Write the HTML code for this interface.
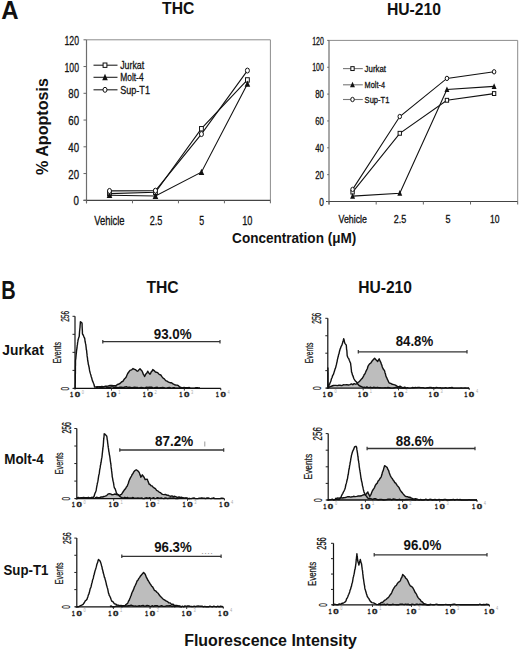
<!DOCTYPE html>
<html><head><meta charset="utf-8"><style>
html,body{margin:0;padding:0;background:#fff;}
svg{display:block;}
text{font-family:"Liberation Sans",sans-serif;}
</style></head><body>
<svg width="520" height="651" viewBox="0 0 520 651">
<rect width="520" height="651" fill="#fff"/>
<text transform="translate(1.20,18.60) scale(0.9611,1.0000)" font-size="25" font-weight="bold" fill="#111" >A</text>
<text transform="translate(162.10,14.40) scale(0.9824,1.0000)" font-size="16" font-weight="bold" fill="#111" >THC</text>
<text transform="translate(386.90,14.50) scale(0.9833,1.0000)" font-size="16" font-weight="bold" fill="#111" >HU-210</text>
<text transform="translate(48.30,175.00) rotate(-90) scale(1.0071,1)" font-size="16" font-weight="bold" fill="#111" >% Apoptosis</text>
<text transform="translate(232.10,242.50) scale(0.9687,1.0000)" font-size="14" font-weight="bold" fill="#111" >Concentration (μM)</text>
<line x1="86.50" y1="39.80" x2="270.40" y2="39.80" stroke="#8c8c8c" stroke-width="1" />
<line x1="270.40" y1="39.80" x2="270.40" y2="200.30" stroke="#8c8c8c" stroke-width="1" />
<line x1="86.50" y1="39.80" x2="86.50" y2="203.30" stroke="#6e6e6e" stroke-width="1.2" />
<line x1="83.50" y1="200.30" x2="270.40" y2="200.30" stroke="#444" stroke-width="1.2" />
<line x1="83.50" y1="200.30" x2="86.50" y2="200.30" stroke="#666" stroke-width="1" />
<text transform="translate(73.60,205.30) scale(0.7784,1.0000)" font-size="12.5" font-weight="normal" fill="#111" stroke="#111" stroke-width="0.3">0</text>
<line x1="83.50" y1="173.55" x2="86.50" y2="173.55" stroke="#666" stroke-width="1" />
<text transform="translate(68.30,178.55) scale(0.7712,1.0000)" font-size="12.5" font-weight="normal" fill="#111" stroke="#111" stroke-width="0.3">20</text>
<line x1="83.50" y1="146.80" x2="86.50" y2="146.80" stroke="#666" stroke-width="1" />
<text transform="translate(68.30,151.80) scale(0.7712,1.0000)" font-size="12.5" font-weight="normal" fill="#111" stroke="#111" stroke-width="0.3">40</text>
<line x1="83.50" y1="120.05" x2="86.50" y2="120.05" stroke="#666" stroke-width="1" />
<text transform="translate(68.30,125.05) scale(0.7712,1.0000)" font-size="12.5" font-weight="normal" fill="#111" stroke="#111" stroke-width="0.3">60</text>
<line x1="83.50" y1="93.30" x2="86.50" y2="93.30" stroke="#666" stroke-width="1" />
<text transform="translate(68.30,98.30) scale(0.7712,1.0000)" font-size="12.5" font-weight="normal" fill="#111" stroke="#111" stroke-width="0.3">80</text>
<line x1="83.50" y1="66.55" x2="86.50" y2="66.55" stroke="#666" stroke-width="1" />
<text transform="translate(64.50,71.55) scale(0.6946,1.0000)" font-size="12.5" font-weight="normal" fill="#111" stroke="#111" stroke-width="0.3">100</text>
<line x1="83.50" y1="39.80" x2="86.50" y2="39.80" stroke="#666" stroke-width="1" />
<text transform="translate(64.50,44.80) scale(0.6946,1.0000)" font-size="12.5" font-weight="normal" fill="#111" stroke="#111" stroke-width="0.3">120</text>
<line x1="86.50" y1="200.30" x2="86.50" y2="203.30" stroke="#666" stroke-width="1" />
<line x1="132.47" y1="200.30" x2="132.47" y2="203.30" stroke="#666" stroke-width="1" />
<line x1="178.45" y1="200.30" x2="178.45" y2="203.30" stroke="#666" stroke-width="1" />
<line x1="224.42" y1="200.30" x2="224.42" y2="203.30" stroke="#666" stroke-width="1" />
<line x1="270.40" y1="200.30" x2="270.40" y2="203.30" stroke="#666" stroke-width="1" />
<text transform="translate(94.20,224.60) scale(0.7541,1.0000)" font-size="12.5" font-weight="normal" fill="#111" stroke="#111" stroke-width="0.3">Vehicle</text>
<text transform="translate(149.65,224.60) scale(0.7309,1.0000)" font-size="12.5" font-weight="normal" fill="#111" stroke="#111" stroke-width="0.3">2.5</text>
<text transform="translate(199.30,224.60) scale(0.7063,1.0000)" font-size="12.5" font-weight="normal" fill="#111" stroke="#111" stroke-width="0.3">5</text>
<text transform="translate(242.20,224.60) scale(0.7351,1.0000)" font-size="12.5" font-weight="normal" fill="#111" stroke="#111" stroke-width="0.3">10</text>
<polyline points="109.5,193.6 155.5,192.3 201.4,128.7 247.4,79.9" fill="none" stroke="#111" stroke-width="1.1"/>
<polyline points="109.5,195.2 155.5,196.0 201.4,172.2 247.4,83.9" fill="none" stroke="#111" stroke-width="1.1"/>
<polyline points="109.5,190.9 155.5,190.7 201.4,134.1 247.4,70.6" fill="none" stroke="#111" stroke-width="1.1"/>
<rect x="107.59" y="191.41" width="3.80" height="4.40" fill="#fff" stroke="#111" stroke-width="1"/>
<rect x="153.56" y="190.08" width="3.80" height="4.40" fill="#fff" stroke="#111" stroke-width="1"/>
<rect x="199.54" y="126.54" width="3.80" height="4.40" fill="#fff" stroke="#111" stroke-width="1"/>
<rect x="245.51" y="77.73" width="3.80" height="4.40" fill="#fff" stroke="#111" stroke-width="1"/>
<polygon points="109.49,191.70 112.29,198.10 106.69,198.10" fill="#111"/>
<polygon points="155.46,192.50 158.26,198.90 152.66,198.90" fill="#111"/>
<polygon points="201.44,168.69 204.24,175.09 198.64,175.09" fill="#111"/>
<polygon points="247.41,80.42 250.21,86.82 244.61,86.82" fill="#111"/>
<ellipse cx="109.49" cy="190.94" rx="2.00" ry="2.50" fill="#fff" stroke="#111" stroke-width="1"/>
<ellipse cx="155.46" cy="190.67" rx="2.00" ry="2.50" fill="#fff" stroke="#111" stroke-width="1"/>
<ellipse cx="201.44" cy="134.09" rx="2.00" ry="2.50" fill="#fff" stroke="#111" stroke-width="1"/>
<ellipse cx="247.41" cy="70.56" rx="2.00" ry="2.50" fill="#fff" stroke="#111" stroke-width="1"/>
<line x1="93.50" y1="65.20" x2="117.50" y2="65.20" stroke="#222" stroke-width="1.1" />
<rect x="103.10" y="63.00" width="3.80" height="4.40" fill="#fff" stroke="#111" stroke-width="1"/>
<text transform="translate(120.20,69.20) scale(0.8007,1.0000)" font-size="11" font-weight="normal" fill="#111" stroke="#111" stroke-width="0.3">Jurkat</text>
<line x1="93.50" y1="77.30" x2="117.50" y2="77.30" stroke="#222" stroke-width="1.1" />
<polygon points="105.00,73.78 107.80,80.18 102.20,80.18" fill="#111"/>
<text transform="translate(120.20,81.30) scale(0.7652,1.0000)" font-size="11" font-weight="normal" fill="#111" stroke="#111" stroke-width="0.3">Molt-4</text>
<line x1="93.50" y1="89.80" x2="117.50" y2="89.80" stroke="#222" stroke-width="1.1" />
<ellipse cx="105.00" cy="89.80" rx="2.00" ry="2.50" fill="#fff" stroke="#111" stroke-width="1"/>
<text transform="translate(120.20,93.80) scale(0.8259,1.0000)" font-size="11" font-weight="normal" fill="#111" stroke="#111" stroke-width="0.3">Sup-T1</text>
<line x1="329.00" y1="40.40" x2="517.70" y2="40.40" stroke="#8c8c8c" stroke-width="1" />
<line x1="517.70" y1="40.40" x2="517.70" y2="201.50" stroke="#8c8c8c" stroke-width="1" />
<line x1="329.00" y1="40.40" x2="329.00" y2="204.50" stroke="#6e6e6e" stroke-width="1.2" />
<line x1="326.00" y1="201.50" x2="517.70" y2="201.50" stroke="#444" stroke-width="1.2" />
<line x1="327.20" y1="201.50" x2="329.00" y2="201.50" stroke="#666" stroke-width="1" />
<text transform="translate(319.30,205.60) scale(0.7894,1.0000)" font-size="10.5" font-weight="normal" fill="#111" stroke="#111" stroke-width="0.3">0</text>
<line x1="327.20" y1="174.65" x2="329.00" y2="174.65" stroke="#666" stroke-width="1" />
<text transform="translate(315.20,178.75) scale(0.7465,1.0000)" font-size="10.5" font-weight="normal" fill="#111" stroke="#111" stroke-width="0.3">20</text>
<line x1="327.20" y1="147.80" x2="329.00" y2="147.80" stroke="#666" stroke-width="1" />
<text transform="translate(315.20,151.90) scale(0.7465,1.0000)" font-size="10.5" font-weight="normal" fill="#111" stroke="#111" stroke-width="0.3">40</text>
<line x1="327.20" y1="120.95" x2="329.00" y2="120.95" stroke="#666" stroke-width="1" />
<text transform="translate(315.20,125.05) scale(0.7465,1.0000)" font-size="10.5" font-weight="normal" fill="#111" stroke="#111" stroke-width="0.3">60</text>
<line x1="327.20" y1="94.10" x2="329.00" y2="94.10" stroke="#666" stroke-width="1" />
<text transform="translate(315.20,98.20) scale(0.7465,1.0000)" font-size="10.5" font-weight="normal" fill="#111" stroke="#111" stroke-width="0.3">80</text>
<line x1="327.20" y1="67.25" x2="329.00" y2="67.25" stroke="#666" stroke-width="1" />
<text transform="translate(312.20,71.35) scale(0.6672,1.0000)" font-size="10.5" font-weight="normal" fill="#111" stroke="#111" stroke-width="0.3">100</text>
<line x1="327.20" y1="40.40" x2="329.00" y2="40.40" stroke="#666" stroke-width="1" />
<text transform="translate(312.20,44.50) scale(0.6672,1.0000)" font-size="10.5" font-weight="normal" fill="#111" stroke="#111" stroke-width="0.3">120</text>
<line x1="329.00" y1="201.50" x2="329.00" y2="204.50" stroke="#666" stroke-width="1" />
<line x1="376.18" y1="201.50" x2="376.18" y2="204.50" stroke="#666" stroke-width="1" />
<line x1="423.35" y1="201.50" x2="423.35" y2="204.50" stroke="#666" stroke-width="1" />
<line x1="470.53" y1="201.50" x2="470.53" y2="204.50" stroke="#666" stroke-width="1" />
<line x1="517.70" y1="201.50" x2="517.70" y2="204.50" stroke="#666" stroke-width="1" />
<text transform="translate(338.50,223.40) scale(0.8416,1.0000)" font-size="10.5" font-weight="normal" fill="#111" stroke="#111" stroke-width="0.3">Vehicle</text>
<text transform="translate(393.75,223.40) scale(0.8565,1.0000)" font-size="10.5" font-weight="normal" fill="#111" stroke="#111" stroke-width="0.3">2.5</text>
<text transform="translate(445.50,223.40) scale(0.8580,1.0000)" font-size="10.5" font-weight="normal" fill="#111" stroke="#111" stroke-width="0.3">5</text>
<text transform="translate(490.00,223.40) scale(0.8151,1.0000)" font-size="10.5" font-weight="normal" fill="#111" stroke="#111" stroke-width="0.3">10</text>
<polyline points="352.6,192.1 399.8,133.3 446.9,100.3 494.1,93.6" fill="none" stroke="#111" stroke-width="1.1"/>
<polyline points="352.6,196.1 399.8,193.2 446.9,89.5 494.1,86.4" fill="none" stroke="#111" stroke-width="1.1"/>
<polyline points="352.6,189.4 399.8,116.5 446.9,78.4 494.1,71.8" fill="none" stroke="#111" stroke-width="1.1"/>
<rect x="350.92" y="190.17" width="3.34" height="3.87" fill="#fff" stroke="#111" stroke-width="1"/>
<rect x="398.09" y="131.36" width="3.34" height="3.87" fill="#fff" stroke="#111" stroke-width="1"/>
<rect x="445.27" y="98.34" width="3.34" height="3.87" fill="#fff" stroke="#111" stroke-width="1"/>
<rect x="492.44" y="91.63" width="3.34" height="3.87" fill="#fff" stroke="#111" stroke-width="1"/>
<polygon points="352.59,193.03 355.05,198.66 350.12,198.66" fill="#111"/>
<polygon points="399.76,190.08 402.23,195.71 397.30,195.71" fill="#111"/>
<polygon points="446.94,86.44 449.40,92.07 444.47,92.07" fill="#111"/>
<polygon points="494.11,83.35 496.58,88.98 491.65,88.98" fill="#111"/>
<ellipse cx="352.59" cy="189.42" rx="1.76" ry="2.20" fill="#fff" stroke="#111" stroke-width="1"/>
<ellipse cx="399.76" cy="116.52" rx="1.76" ry="2.20" fill="#fff" stroke="#111" stroke-width="1"/>
<ellipse cx="446.94" cy="78.39" rx="1.76" ry="2.20" fill="#fff" stroke="#111" stroke-width="1"/>
<ellipse cx="494.11" cy="71.81" rx="1.76" ry="2.20" fill="#fff" stroke="#111" stroke-width="1"/>
<line x1="343.00" y1="68.60" x2="362.80" y2="68.60" stroke="#777" stroke-width="1.1" />
<rect x="350.83" y="66.66" width="3.34" height="3.87" fill="#fff" stroke="#111" stroke-width="1"/>
<text transform="translate(364.60,72.10) scale(0.8180,1.0000)" font-size="9.6" font-weight="normal" fill="#111" stroke="#111" stroke-width="0.3">Jurkat</text>
<line x1="343.00" y1="84.80" x2="362.80" y2="84.80" stroke="#777" stroke-width="1.1" />
<polygon points="352.50,81.70 354.96,87.33 350.04,87.33" fill="#111"/>
<text transform="translate(364.60,88.30) scale(0.7644,1.0000)" font-size="9.6" font-weight="normal" fill="#111" stroke="#111" stroke-width="0.3">Molt-4</text>
<line x1="343.00" y1="99.50" x2="362.80" y2="99.50" stroke="#777" stroke-width="1.1" />
<ellipse cx="352.50" cy="99.50" rx="1.76" ry="2.20" fill="#fff" stroke="#111" stroke-width="1"/>
<text transform="translate(364.60,103.00) scale(0.7876,1.0000)" font-size="9.6" font-weight="normal" fill="#111" stroke="#111" stroke-width="0.3">Sup-T1</text>
<text transform="translate(1.20,298.90) scale(0.8000,1.0000)" font-size="25" font-weight="bold" fill="#111" >B</text>
<text transform="translate(146.40,293.10) scale(0.9824,1.0000)" font-size="16" font-weight="bold" fill="#111" >THC</text>
<text transform="translate(358.20,293.10) scale(0.9761,1.0000)" font-size="16" font-weight="bold" fill="#111" >HU-210</text>
<text transform="translate(2.30,355.00) scale(0.9881,1.0000)" font-size="14" font-weight="bold" fill="#111" >Jurkat</text>
<text transform="translate(4.20,463.80) scale(0.9605,1.0000)" font-size="14" font-weight="bold" fill="#111" >Molt-4</text>
<text transform="translate(3.50,574.60) scale(0.9482,1.0000)" font-size="14" font-weight="bold" fill="#111" >Sup-T1</text>
<text transform="translate(184.20,645.80) scale(0.9968,1.0000)" font-size="16" font-weight="bold" fill="#111" >Fluorescence Intensity</text>
<polygon points="96.0,387.5 97.5,387.5 99.0,386.7 100.5,386.8 102.0,386.5 103.5,387.0 105.0,386.3 106.7,386.2 108.3,385.9 110.0,385.5 111.7,385.5 113.3,385.8 115.0,385.8 116.2,385.4 117.5,384.5 118.8,384.0 120.0,383.5 121.5,382.0 123.1,381.2 123.9,379.7 124.6,378.8 125.4,378.0 126.2,377.0 126.9,375.2 127.7,373.5 128.8,372.0 130.0,370.4 131.5,369.9 133.0,368.5 134.2,369.3 135.4,369.6 136.6,370.8 137.7,371.2 138.8,369.9 140.0,368.8 141.5,370.4 142.1,371.2 142.7,372.5 143.4,374.4 144.0,375.1 144.6,376.5 145.4,374.9 146.1,373.7 146.9,373.0 147.7,371.2 148.8,373.0 150.0,374.2 150.7,373.2 151.4,371.4 152.1,371.1 152.8,369.6 154.1,370.6 155.4,372.0 157.7,372.7 159.2,374.4 160.8,375.0 161.9,376.6 163.0,378.0 164.3,378.9 165.7,380.6 167.0,381.2 168.5,382.1 170.0,382.7 171.5,382.7 173.0,383.9 174.5,384.7 176.0,385.0 177.2,385.1 178.4,385.6 179.6,387.0 180.8,387.3 182.3,387.9 183.8,388.0 183.8,388.4 96.0,388.4" fill="#bdbdbd" stroke="none"/>
<polyline points="96.0,387.5 97.5,387.5 99.0,386.7 100.5,386.8 102.0,386.5 103.5,387.0 105.0,386.3 106.7,386.2 108.3,385.9 110.0,385.5 111.7,385.5 113.3,385.8 115.0,385.8 116.2,385.4 117.5,384.5 118.8,384.0 120.0,383.5 121.5,382.0 123.1,381.2 123.9,379.7 124.6,378.8 125.4,378.0 126.2,377.0 126.9,375.2 127.7,373.5 128.8,372.0 130.0,370.4 131.5,369.9 133.0,368.5 134.2,369.3 135.4,369.6 136.6,370.8 137.7,371.2 138.8,369.9 140.0,368.8 141.5,370.4 142.1,371.2 142.7,372.5 143.4,374.4 144.0,375.1 144.6,376.5 145.4,374.9 146.1,373.7 146.9,373.0 147.7,371.2 148.8,373.0 150.0,374.2 150.7,373.2 151.4,371.4 152.1,371.1 152.8,369.6 154.1,370.6 155.4,372.0 157.7,372.7 159.2,374.4 160.8,375.0 161.9,376.6 163.0,378.0 164.3,378.9 165.7,380.6 167.0,381.2 168.5,382.1 170.0,382.7 171.5,382.7 173.0,383.9 174.5,384.7 176.0,385.0 177.2,385.1 178.4,385.6 179.6,387.0 180.8,387.3 182.3,387.9 183.8,388.0" fill="none" stroke="#111" stroke-width="1.4" stroke-linejoin="round"/>
<polyline points="75.2,388.0 75.2,386.7 75.2,385.5 75.2,384.1 75.3,382.3 75.3,381.8 75.3,379.6 75.3,379.1 75.3,377.3 75.3,376.0 75.3,374.6 75.4,373.1 75.4,371.8 75.4,370.6 75.4,369.5 75.4,368.2 75.4,366.2 75.5,365.4 75.5,363.9 75.5,362.7 75.5,361.0 75.6,359.7 75.8,358.8 75.9,357.5 76.1,355.2 76.2,354.2 76.4,352.7 76.5,351.1 76.7,349.8 76.8,348.9 77.0,348.0 77.2,345.5 77.4,344.9 77.6,342.7 77.8,341.9 78.0,340.3 78.6,338.1 79.2,336.6 79.3,335.2 79.4,333.9 79.5,332.5 79.6,331.0 79.7,330.3 79.9,328.2 80.0,327.7 80.1,325.7 80.2,324.7 80.3,323.4 80.4,321.8 81.3,322.4 82.0,323.0 82.1,324.3 82.1,326.1 82.2,327.6 82.2,328.1 82.3,329.8 82.4,331.4 82.4,333.1 82.5,334.0 83.2,335.0 83.8,336.6 84.7,338.4 84.9,340.0 85.1,341.5 85.3,342.4 85.6,343.9 85.8,344.7 86.0,346.4 86.2,348.0 86.3,349.5 86.5,349.9 86.7,351.3 86.8,353.1 87.0,353.9 87.1,355.9 87.3,357.1 87.5,358.0 87.6,359.8 87.8,361.0 88.1,362.4 88.3,364.3 88.6,365.1 88.9,366.5 89.2,367.8 89.4,369.4 89.7,371.0 90.1,372.6 90.5,373.9 90.9,375.1 91.3,377.0 91.7,377.8 92.1,379.6 92.6,381.2 93.0,381.9 93.5,383.3 94.0,384.5 94.6,387.0 95.9,387.0 97.3,386.8 98.7,386.9 100.0,387.3 101.7,387.5 103.3,386.9 105.0,386.6 106.7,387.3 108.3,387.2 110.0,387.4 111.4,386.9 112.9,386.9 114.3,387.7 115.7,387.0 117.1,387.5 118.6,387.7 120.0,387.2 121.3,387.2 122.7,387.5 124.0,387.3 125.3,387.0 126.7,386.8 128.0,387.5 129.3,387.1 130.7,387.4 132.0,387.9 133.3,387.4 134.7,387.2 136.0,387.4 137.3,387.4 138.7,388.1 140.0,387.6 141.3,387.4 142.7,387.6 144.0,388.0 145.3,387.7 146.7,387.2 148.0,387.4 149.3,387.2 150.7,387.2 152.0,387.3 153.3,388.1 154.7,387.8 156.0,387.5 157.3,387.3 158.7,388.1 160.0,387.8 161.3,387.8 162.7,387.5 164.0,387.7 165.3,388.2 166.7,388.2 168.0,387.6 169.3,387.4 170.7,387.9 172.0,388.1 173.3,387.7 174.7,387.8 176.0,388.3 177.3,388.2 178.7,388.1 180.0,387.8 181.3,388.0 182.7,388.0 184.0,387.4 185.3,387.7 186.7,387.7 188.0,387.7 189.3,387.5 190.7,388.3 192.0,388.3 193.3,388.3 194.7,388.2 196.0,387.6 197.3,387.8 198.7,388.0 200.0,388.0" fill="none" stroke="#111" stroke-width="1.4" stroke-linejoin="round"/>
<line x1="75.00" y1="316.30" x2="75.00" y2="389.40" stroke="#111" stroke-width="1.2" />
<line x1="73.50" y1="388.40" x2="220.80" y2="388.40" stroke="#111" stroke-width="1.3" />
<line x1="220.80" y1="388.40" x2="220.80" y2="390.20" stroke="#111" stroke-width="1" />
<line x1="72.50" y1="316.30" x2="75.00" y2="316.30" stroke="#222" stroke-width="1" />
<line x1="72.50" y1="334.32" x2="75.00" y2="334.32" stroke="#222" stroke-width="1" />
<line x1="72.50" y1="352.35" x2="75.00" y2="352.35" stroke="#222" stroke-width="1" />
<line x1="72.50" y1="370.38" x2="75.00" y2="370.38" stroke="#222" stroke-width="1" />
<line x1="72.50" y1="388.40" x2="75.00" y2="388.40" stroke="#222" stroke-width="1" />
<line x1="102.80" y1="341.70" x2="220.00" y2="341.70" stroke="#333" stroke-width="1.3" />
<line x1="102.80" y1="339.90" x2="102.80" y2="343.50" stroke="#333" stroke-width="1.2" />
<line x1="220.00" y1="339.90" x2="220.00" y2="343.50" stroke="#333" stroke-width="1.2" />
<text transform="translate(153.70,339.00) scale(0.9549,1.0000)" font-size="14" font-weight="bold" fill="#111" >93.0%</text>
<text transform="translate(60.90,363.30) rotate(-90) scale(0.6972,1)" font-size="10" font-weight="normal" fill="#111" stroke="#111" stroke-width="0.2">Events</text>
<text transform="translate(69.20,321.80) rotate(-90) scale(0.5625,1)" font-size="11.71" font-weight="normal" fill="#111" stroke="#111" stroke-width="0.25">256</text>
<text transform="translate(68.60,390.40) rotate(-90) scale(0.5823,1)" font-size="11.14" font-weight="normal" fill="#111" stroke="#111" stroke-width="0.2">0</text>
<text transform="translate(70.20,397.20) scale(0.6401,1.0000)" font-size="7.6" font-weight="bold" fill="#222" stroke="#222" stroke-width="0.35">1</text>
<text transform="translate(74.65,397.20) scale(1.2921,1.0000)" font-size="7.6" font-weight="bold" fill="#222" stroke="#222" stroke-width="0.35">0</text>
<text transform="translate(81.70,393.70) scale(0.8809,1.0000)" font-size="4.5" font-weight="normal" fill="#aaa" >0</text>
<line x1="111.45" y1="388.40" x2="111.45" y2="390.60" stroke="#222" stroke-width="0.9" />
<text transform="translate(106.65,397.20) scale(0.6401,1.0000)" font-size="7.6" font-weight="bold" fill="#222" stroke="#222" stroke-width="0.35">1</text>
<text transform="translate(111.10,397.20) scale(1.2921,1.0000)" font-size="7.6" font-weight="bold" fill="#222" stroke="#222" stroke-width="0.35">0</text>
<text transform="translate(118.15,393.70) scale(0.8809,1.0000)" font-size="4.5" font-weight="normal" fill="#aaa" >1</text>
<line x1="147.90" y1="388.40" x2="147.90" y2="390.60" stroke="#222" stroke-width="0.9" />
<text transform="translate(143.10,397.20) scale(0.6401,1.0000)" font-size="7.6" font-weight="bold" fill="#222" stroke="#222" stroke-width="0.35">1</text>
<text transform="translate(147.55,397.20) scale(1.2921,1.0000)" font-size="7.6" font-weight="bold" fill="#222" stroke="#222" stroke-width="0.35">0</text>
<text transform="translate(154.60,393.70) scale(0.8809,1.0000)" font-size="4.5" font-weight="normal" fill="#aaa" >2</text>
<line x1="184.35" y1="388.40" x2="184.35" y2="390.60" stroke="#222" stroke-width="0.9" />
<text transform="translate(179.55,397.20) scale(0.6401,1.0000)" font-size="7.6" font-weight="bold" fill="#222" stroke="#222" stroke-width="0.35">1</text>
<text transform="translate(184.00,397.20) scale(1.2921,1.0000)" font-size="7.6" font-weight="bold" fill="#222" stroke="#222" stroke-width="0.35">0</text>
<text transform="translate(191.05,393.70) scale(0.8809,1.0000)" font-size="4.5" font-weight="normal" fill="#aaa" >3</text>
<text transform="translate(216.00,397.20) scale(0.6401,1.0000)" font-size="7.6" font-weight="bold" fill="#222" stroke="#222" stroke-width="0.35">1</text>
<text transform="translate(220.45,397.20) scale(1.2921,1.0000)" font-size="7.6" font-weight="bold" fill="#222" stroke="#222" stroke-width="0.35">0</text>
<text transform="translate(227.50,393.70) scale(0.8809,1.0000)" font-size="4.5" font-weight="normal" fill="#aaa" >4</text>
<polygon points="328.5,387.5 330.2,386.7 332.0,386.0 333.3,385.5 334.7,385.4 336.0,385.4 337.3,385.6 338.7,385.3 340.0,385.2 341.7,385.6 343.3,384.8 345.0,384.9 346.7,384.6 348.3,385.0 350.0,384.6 351.4,383.9 352.8,384.7 354.1,383.6 355.5,384.2 356.9,383.8 357.9,382.4 359.0,381.9 360.0,380.8 361.0,379.6 362.1,378.6 363.1,376.9 363.7,375.8 364.3,374.4 365.0,373.7 365.6,372.3 366.2,370.8 366.8,369.7 367.4,368.5 367.9,366.5 368.5,365.4 369.6,363.8 370.8,363.0 371.9,361.3 373.0,360.0 374.6,358.2 376.2,360.0 377.7,361.5 378.4,360.2 379.2,358.8 380.0,360.9 380.8,362.3 381.3,364.1 381.8,365.0 382.3,367.0 383.1,368.8 383.8,369.7 384.6,370.8 385.0,372.7 385.4,373.7 385.8,375.6 386.2,376.9 386.8,377.8 387.4,379.4 388.0,380.5 388.6,381.9 389.2,383.0 390.7,383.4 392.3,384.3 393.8,384.6 395.4,385.1 397.0,386.2 398.5,386.8 400.0,386.2 401.5,387.0 403.0,387.8 404.5,387.1 406.0,387.7 406.0,388.1 328.5,388.1" fill="#bdbdbd" stroke="none"/>
<polyline points="328.5,387.5 330.2,386.7 332.0,386.0 333.3,385.5 334.7,385.4 336.0,385.4 337.3,385.6 338.7,385.3 340.0,385.2 341.7,385.6 343.3,384.8 345.0,384.9 346.7,384.6 348.3,385.0 350.0,384.6 351.4,383.9 352.8,384.7 354.1,383.6 355.5,384.2 356.9,383.8 357.9,382.4 359.0,381.9 360.0,380.8 361.0,379.6 362.1,378.6 363.1,376.9 363.7,375.8 364.3,374.4 365.0,373.7 365.6,372.3 366.2,370.8 366.8,369.7 367.4,368.5 367.9,366.5 368.5,365.4 369.6,363.8 370.8,363.0 371.9,361.3 373.0,360.0 374.6,358.2 376.2,360.0 377.7,361.5 378.4,360.2 379.2,358.8 380.0,360.9 380.8,362.3 381.3,364.1 381.8,365.0 382.3,367.0 383.1,368.8 383.8,369.7 384.6,370.8 385.0,372.7 385.4,373.7 385.8,375.6 386.2,376.9 386.8,377.8 387.4,379.4 388.0,380.5 388.6,381.9 389.2,383.0 390.7,383.4 392.3,384.3 393.8,384.6 395.4,385.1 397.0,386.2 398.5,386.8 400.0,386.2 401.5,387.0 403.0,387.8 404.5,387.1 406.0,387.7" fill="none" stroke="#111" stroke-width="1.4" stroke-linejoin="round"/>
<polyline points="327.9,388.0 327.9,386.3 327.9,385.3 327.9,384.5 327.9,382.3 327.9,381.3 327.9,379.8 327.9,378.8 327.9,377.8 327.9,375.8 327.9,374.5 327.9,373.7 327.9,371.5 327.9,370.4 327.9,369.4 327.9,368.0 327.9,369.2 327.9,370.7 327.9,372.5 328.0,373.0 328.0,374.4 328.0,375.9 328.0,376.8 328.0,378.2 328.0,379.7 328.0,381.9 328.0,382.6 328.1,383.9 328.1,385.2 328.1,386.2 328.1,388.0 328.6,386.4 329.1,385.0 329.6,384.3 330.1,382.8 330.6,381.8 331.0,380.5 331.5,378.6 332.1,377.5 332.7,375.3 333.3,374.8 333.9,372.9 334.4,371.2 334.9,369.6 335.3,368.6 335.8,367.1 336.1,365.6 336.4,364.7 336.8,362.7 337.1,361.6 337.4,359.6 337.7,358.6 338.0,357.1 338.3,356.4 338.6,354.5 339.0,353.8 339.3,352.2 339.6,351.0 340.1,349.1 340.5,348.4 341.0,346.7 341.8,345.4 342.5,343.3 342.9,341.5 343.3,340.4 343.7,338.6 344.1,340.0 344.5,342.1 344.9,343.3 346.3,345.2 346.4,346.6 346.5,348.0 346.6,349.6 346.8,350.1 346.9,351.2 347.0,352.6 347.1,354.5 347.2,355.7 347.9,357.6 348.7,358.6 349.3,360.2 350.0,361.9 350.6,363.3 350.8,365.2 350.9,366.0 351.1,367.4 351.2,368.8 351.4,370.2 351.5,371.9 352.0,373.0 352.4,374.8 352.9,375.7 353.3,377.1 353.8,378.5 354.6,379.9 355.4,381.0 356.2,381.7 357.0,383.0 358.0,384.3 359.0,385.5 360.0,386.0 361.5,386.7 363.0,387.4 364.3,387.3 365.6,387.6 366.9,387.0 368.2,387.6 369.5,387.5 370.8,387.3 372.2,387.9 373.5,387.3 374.8,387.5 376.1,387.7 377.4,387.3 378.7,387.7 380.0,387.8 381.3,387.9 382.6,387.9 383.9,387.9 385.2,387.8 386.5,387.9 387.9,387.5 389.2,387.7 390.5,388.0 391.8,388.1 393.1,388.1 394.4,387.8 395.7,387.4 397.0,387.3 398.3,388.1 399.6,387.6 400.9,388.1 402.2,388.1 403.6,387.8 404.9,388.1 406.2,388.0 407.5,387.7 408.8,388.1 410.1,388.1 411.4,387.9 412.7,387.5 414.0,387.9 415.3,387.4 416.6,387.6 418.0,387.4 419.3,387.4 420.6,387.6 421.9,387.6 423.2,387.6 424.5,388.1 425.8,388.1 427.1,387.7 428.4,387.7 429.7,387.5 431.0,387.5 432.4,388.0 433.7,387.7 435.0,388.1 436.3,387.4 437.6,387.6 438.9,387.9 440.2,387.6 441.5,388.1 442.8,388.0 444.1,388.1 445.4,387.6 446.8,388.0 448.1,388.1 449.4,387.7 450.7,387.7 452.0,387.5 453.3,388.1 454.6,388.1 455.9,388.1 457.2,388.1 458.5,388.1 459.8,388.1 461.1,387.9 462.5,388.1 463.8,388.1 465.1,387.9 466.4,388.1 467.7,388.1 469.0,388.0" fill="none" stroke="#111" stroke-width="1.4" stroke-linejoin="round"/>
<line x1="327.80" y1="318.30" x2="327.80" y2="389.10" stroke="#111" stroke-width="1.2" />
<line x1="326.30" y1="388.10" x2="469.20" y2="388.10" stroke="#111" stroke-width="1.3" />
<line x1="469.20" y1="388.10" x2="469.20" y2="389.90" stroke="#111" stroke-width="1" />
<line x1="325.30" y1="318.30" x2="327.80" y2="318.30" stroke="#222" stroke-width="1" />
<line x1="325.30" y1="335.75" x2="327.80" y2="335.75" stroke="#222" stroke-width="1" />
<line x1="325.30" y1="353.20" x2="327.80" y2="353.20" stroke="#222" stroke-width="1" />
<line x1="325.30" y1="370.65" x2="327.80" y2="370.65" stroke="#222" stroke-width="1" />
<line x1="325.30" y1="388.10" x2="327.80" y2="388.10" stroke="#222" stroke-width="1" />
<line x1="358.30" y1="351.80" x2="467.00" y2="351.80" stroke="#333" stroke-width="1.3" />
<line x1="358.30" y1="350.00" x2="358.30" y2="353.60" stroke="#333" stroke-width="1.2" />
<line x1="467.00" y1="350.00" x2="467.00" y2="353.60" stroke="#333" stroke-width="1.2" />
<text transform="translate(395.75,346.30) scale(0.9448,1.0000)" font-size="14" font-weight="bold" fill="#111" >84.8%</text>
<text transform="translate(313.10,363.20) rotate(-90) scale(0.6776,1)" font-size="10" font-weight="normal" fill="#111" stroke="#111" stroke-width="0.2">Events</text>
<text transform="translate(321.10,323.80) rotate(-90) scale(0.5539,1)" font-size="12.0" font-weight="normal" fill="#111" stroke="#111" stroke-width="0.25">256</text>
<text transform="translate(321.40,390.10) rotate(-90) scale(0.5823,1)" font-size="11.14" font-weight="normal" fill="#111" stroke="#111" stroke-width="0.2">0</text>
<text transform="translate(323.00,396.90) scale(0.6401,1.0000)" font-size="7.6" font-weight="bold" fill="#222" stroke="#222" stroke-width="0.35">1</text>
<text transform="translate(327.45,396.90) scale(1.2921,1.0000)" font-size="7.6" font-weight="bold" fill="#222" stroke="#222" stroke-width="0.35">0</text>
<text transform="translate(334.50,393.40) scale(0.8809,1.0000)" font-size="4.5" font-weight="normal" fill="#aaa" >0</text>
<line x1="363.15" y1="388.10" x2="363.15" y2="390.30" stroke="#222" stroke-width="0.9" />
<text transform="translate(358.35,396.90) scale(0.6401,1.0000)" font-size="7.6" font-weight="bold" fill="#222" stroke="#222" stroke-width="0.35">1</text>
<text transform="translate(362.80,396.90) scale(1.2921,1.0000)" font-size="7.6" font-weight="bold" fill="#222" stroke="#222" stroke-width="0.35">0</text>
<text transform="translate(369.85,393.40) scale(0.8809,1.0000)" font-size="4.5" font-weight="normal" fill="#aaa" >1</text>
<line x1="398.50" y1="388.10" x2="398.50" y2="390.30" stroke="#222" stroke-width="0.9" />
<text transform="translate(393.70,396.90) scale(0.6401,1.0000)" font-size="7.6" font-weight="bold" fill="#222" stroke="#222" stroke-width="0.35">1</text>
<text transform="translate(398.15,396.90) scale(1.2921,1.0000)" font-size="7.6" font-weight="bold" fill="#222" stroke="#222" stroke-width="0.35">0</text>
<text transform="translate(405.20,393.40) scale(0.8809,1.0000)" font-size="4.5" font-weight="normal" fill="#aaa" >2</text>
<line x1="433.85" y1="388.10" x2="433.85" y2="390.30" stroke="#222" stroke-width="0.9" />
<text transform="translate(429.05,396.90) scale(0.6401,1.0000)" font-size="7.6" font-weight="bold" fill="#222" stroke="#222" stroke-width="0.35">1</text>
<text transform="translate(433.50,396.90) scale(1.2921,1.0000)" font-size="7.6" font-weight="bold" fill="#222" stroke="#222" stroke-width="0.35">0</text>
<text transform="translate(440.55,393.40) scale(0.8809,1.0000)" font-size="4.5" font-weight="normal" fill="#aaa" >3</text>
<text transform="translate(464.40,396.90) scale(0.6401,1.0000)" font-size="7.6" font-weight="bold" fill="#222" stroke="#222" stroke-width="0.35">1</text>
<text transform="translate(468.85,396.90) scale(1.2921,1.0000)" font-size="7.6" font-weight="bold" fill="#222" stroke="#222" stroke-width="0.35">0</text>
<text transform="translate(475.90,393.40) scale(0.8809,1.0000)" font-size="4.5" font-weight="normal" fill="#aaa" >4</text>
<polygon points="95.0,498.0 96.5,497.3 98.0,497.7 99.6,497.6 101.1,497.0 102.6,497.0 103.9,496.5 105.2,496.1 106.6,495.6 107.9,494.1 109.2,493.8 110.5,493.9 111.8,494.7 113.4,494.6 115.0,494.0 116.5,494.5 118.1,494.7 119.6,495.7 120.5,494.6 121.5,494.3 122.4,492.9 123.3,491.5 124.1,490.3 125.0,489.2 125.8,488.2 126.5,486.9 127.3,486.0 127.8,484.4 128.3,483.5 128.8,481.5 129.3,480.2 129.8,479.1 130.7,477.3 131.5,476.0 132.2,474.4 133.0,473.6 133.7,471.9 135.0,470.5 136.2,469.8 137.5,470.5 138.4,471.4 139.4,472.9 139.9,474.6 140.4,475.6 140.9,477.2 141.6,476.2 142.3,474.8 143.5,476.5 144.3,477.7 145.2,479.6 147.1,479.1 147.6,480.1 148.1,481.6 148.5,482.4 149.0,484.0 150.0,484.5 151.1,485.7 152.1,485.9 153.2,487.2 154.2,488.0 155.4,488.6 156.6,490.3 157.9,491.0 159.1,492.1 160.3,492.6 161.6,493.8 162.8,494.4 164.0,494.6 165.3,494.4 166.6,495.0 168.0,495.2 169.3,495.9 170.6,496.2 172.0,495.9 173.4,496.6 174.8,496.3 176.2,496.9 177.6,497.7 179.0,496.9 180.4,497.5 181.8,497.3 183.2,497.9 184.6,498.4 186.0,497.8 187.4,498.4 188.8,498.6 190.2,498.3 190.2,498.6 95.0,498.6" fill="#bdbdbd" stroke="none"/>
<polyline points="95.0,498.0 96.5,497.3 98.0,497.7 99.6,497.6 101.1,497.0 102.6,497.0 103.9,496.5 105.2,496.1 106.6,495.6 107.9,494.1 109.2,493.8 110.5,493.9 111.8,494.7 113.4,494.6 115.0,494.0 116.5,494.5 118.1,494.7 119.6,495.7 120.5,494.6 121.5,494.3 122.4,492.9 123.3,491.5 124.1,490.3 125.0,489.2 125.8,488.2 126.5,486.9 127.3,486.0 127.8,484.4 128.3,483.5 128.8,481.5 129.3,480.2 129.8,479.1 130.7,477.3 131.5,476.0 132.2,474.4 133.0,473.6 133.7,471.9 135.0,470.5 136.2,469.8 137.5,470.5 138.4,471.4 139.4,472.9 139.9,474.6 140.4,475.6 140.9,477.2 141.6,476.2 142.3,474.8 143.5,476.5 144.3,477.7 145.2,479.6 147.1,479.1 147.6,480.1 148.1,481.6 148.5,482.4 149.0,484.0 150.0,484.5 151.1,485.7 152.1,485.9 153.2,487.2 154.2,488.0 155.4,488.6 156.6,490.3 157.9,491.0 159.1,492.1 160.3,492.6 161.6,493.8 162.8,494.4 164.0,494.6 165.3,494.4 166.6,495.0 168.0,495.2 169.3,495.9 170.6,496.2 172.0,495.9 173.4,496.6 174.8,496.3 176.2,496.9 177.6,497.7 179.0,496.9 180.4,497.5 181.8,497.3 183.2,497.9 184.6,498.4 186.0,497.8 187.4,498.4 188.8,498.6 190.2,498.3" fill="none" stroke="#111" stroke-width="1.4" stroke-linejoin="round"/>
<polyline points="76.8,498.0 78.2,497.4 79.5,498.0 80.9,497.8 82.3,497.7 83.6,497.5 85.0,497.6 86.7,497.8 88.3,497.3 90.0,497.9 91.8,497.3 93.5,497.7 94.0,496.6 94.5,494.7 95.1,493.0 95.6,492.0 96.1,490.5 96.3,489.4 96.6,487.5 96.8,486.3 97.1,484.9 97.3,483.5 97.6,482.5 97.8,481.7 98.1,480.0 98.3,478.4 98.5,477.1 98.7,475.6 98.9,474.8 99.2,473.7 99.4,472.5 99.6,470.4 99.8,469.4 100.0,468.3 100.2,467.4 100.4,465.5 100.7,464.6 100.9,463.0 101.1,462.3 101.3,460.9 101.6,458.7 101.8,457.9 102.0,456.6 102.1,455.8 102.3,453.6 102.4,452.8 102.6,450.9 102.7,450.2 102.9,448.7 103.0,447.0 103.2,446.6 103.3,444.8 103.4,443.7 103.5,442.4 103.6,440.4 103.8,438.7 103.9,437.5 104.0,437.0 104.1,435.5 104.2,433.7 105.2,434.4 106.8,436.3 107.0,437.5 107.2,439.6 107.4,440.2 107.6,442.0 107.7,443.1 107.9,444.3 108.1,446.2 108.3,447.7 108.5,448.7 108.7,450.2 108.9,451.8 109.1,452.4 109.3,454.1 109.5,455.1 109.7,456.0 109.9,457.5 110.1,458.9 110.3,460.8 110.5,461.8 110.7,463.5 110.8,464.0 111.0,465.2 111.1,466.9 111.3,468.5 111.5,469.2 111.6,470.9 111.8,472.1 111.9,473.3 112.1,474.6 112.2,476.6 112.4,477.4 112.7,478.8 112.9,480.3 113.2,481.5 113.4,482.2 113.7,484.1 113.9,485.4 114.2,487.0 114.4,487.9 115.1,488.8 115.7,490.4 116.3,492.6 117.0,493.8 118.3,494.9 119.6,496.4 120.9,497.1 122.2,497.7 123.5,498.1 124.8,497.3 126.1,498.1 127.4,497.5 128.7,498.1 130.0,498.0 131.3,498.2 132.6,497.5 133.9,498.0 135.2,498.1 136.5,498.1 137.8,498.0 139.1,498.3 140.4,498.1 141.7,497.9 143.0,498.6 144.3,498.5 145.7,497.9 147.0,497.8 148.3,498.4 149.6,497.7 150.9,498.4 152.2,498.4 153.5,497.6 154.8,498.6 156.1,498.4 157.4,497.7 158.7,498.0 160.0,498.2 161.3,498.0 162.6,498.4 163.9,498.6 165.2,498.0 166.5,498.2 167.8,498.6 169.1,498.1 170.4,498.0 171.8,498.2 173.1,497.8 174.4,498.2 175.7,498.6 177.0,498.4 178.3,498.5 179.6,497.8 180.9,498.0 182.2,498.3 183.5,498.0 184.8,498.2 186.1,498.3 187.4,498.1 188.7,498.6 190.0,498.6 191.3,498.6 192.7,498.1 194.0,497.9 195.3,498.6 196.6,498.6 197.9,498.6 199.2,498.1 200.5,498.2 201.8,497.8 203.1,498.2 204.4,498.3 205.7,498.6 207.0,497.9 208.3,498.0 209.6,498.4 210.9,498.6 212.2,498.3 213.6,497.8 214.9,498.6 216.2,498.6 217.5,498.6 218.8,498.6 220.1,498.6 221.4,498.1 222.7,498.3 224.0,498.4" fill="none" stroke="#111" stroke-width="1.4" stroke-linejoin="round"/>
<line x1="76.80" y1="428.50" x2="76.80" y2="499.60" stroke="#111" stroke-width="1.2" />
<line x1="75.30" y1="498.60" x2="224.40" y2="498.60" stroke="#111" stroke-width="1.3" />
<line x1="224.40" y1="498.60" x2="224.40" y2="500.40" stroke="#111" stroke-width="1" />
<line x1="74.30" y1="428.50" x2="76.80" y2="428.50" stroke="#222" stroke-width="1" />
<line x1="74.30" y1="446.02" x2="76.80" y2="446.02" stroke="#222" stroke-width="1" />
<line x1="74.30" y1="463.55" x2="76.80" y2="463.55" stroke="#222" stroke-width="1" />
<line x1="74.30" y1="481.08" x2="76.80" y2="481.08" stroke="#222" stroke-width="1" />
<line x1="74.30" y1="498.60" x2="76.80" y2="498.60" stroke="#222" stroke-width="1" />
<line x1="119.80" y1="450.00" x2="223.70" y2="450.00" stroke="#333" stroke-width="1.3" />
<line x1="119.80" y1="448.20" x2="119.80" y2="451.80" stroke="#333" stroke-width="1.2" />
<line x1="223.70" y1="448.20" x2="223.70" y2="451.80" stroke="#333" stroke-width="1.2" />
<text transform="translate(155.00,446.30) scale(0.9599,1.0000)" font-size="14" font-weight="bold" fill="#111" >87.2%</text>
<text transform="translate(62.80,474.20) rotate(-90) scale(0.7169,1)" font-size="10" font-weight="normal" fill="#111" stroke="#111" stroke-width="0.2">Events</text>
<text transform="translate(71.20,433.60) rotate(-90) scale(0.5788,1)" font-size="12.0" font-weight="normal" fill="#111" stroke="#111" stroke-width="0.25">256</text>
<text transform="translate(70.40,500.60) rotate(-90) scale(0.5823,1)" font-size="11.14" font-weight="normal" fill="#111" stroke="#111" stroke-width="0.2">0</text>
<text transform="translate(72.00,507.40) scale(0.6401,1.0000)" font-size="7.6" font-weight="bold" fill="#222" stroke="#222" stroke-width="0.35">1</text>
<text transform="translate(76.45,507.40) scale(1.2921,1.0000)" font-size="7.6" font-weight="bold" fill="#222" stroke="#222" stroke-width="0.35">0</text>
<text transform="translate(83.50,503.90) scale(0.8809,1.0000)" font-size="4.5" font-weight="normal" fill="#aaa" >0</text>
<line x1="113.70" y1="498.60" x2="113.70" y2="500.80" stroke="#222" stroke-width="0.9" />
<text transform="translate(108.90,507.40) scale(0.6401,1.0000)" font-size="7.6" font-weight="bold" fill="#222" stroke="#222" stroke-width="0.35">1</text>
<text transform="translate(113.35,507.40) scale(1.2921,1.0000)" font-size="7.6" font-weight="bold" fill="#222" stroke="#222" stroke-width="0.35">0</text>
<text transform="translate(120.40,503.90) scale(0.8809,1.0000)" font-size="4.5" font-weight="normal" fill="#aaa" >1</text>
<line x1="150.60" y1="498.60" x2="150.60" y2="500.80" stroke="#222" stroke-width="0.9" />
<text transform="translate(145.80,507.40) scale(0.6401,1.0000)" font-size="7.6" font-weight="bold" fill="#222" stroke="#222" stroke-width="0.35">1</text>
<text transform="translate(150.25,507.40) scale(1.2921,1.0000)" font-size="7.6" font-weight="bold" fill="#222" stroke="#222" stroke-width="0.35">0</text>
<text transform="translate(157.30,503.90) scale(0.8809,1.0000)" font-size="4.5" font-weight="normal" fill="#aaa" >2</text>
<line x1="187.50" y1="498.60" x2="187.50" y2="500.80" stroke="#222" stroke-width="0.9" />
<text transform="translate(182.70,507.40) scale(0.6401,1.0000)" font-size="7.6" font-weight="bold" fill="#222" stroke="#222" stroke-width="0.35">1</text>
<text transform="translate(187.15,507.40) scale(1.2921,1.0000)" font-size="7.6" font-weight="bold" fill="#222" stroke="#222" stroke-width="0.35">0</text>
<text transform="translate(194.20,503.90) scale(0.8809,1.0000)" font-size="4.5" font-weight="normal" fill="#aaa" >3</text>
<text transform="translate(219.60,507.40) scale(0.6401,1.0000)" font-size="7.6" font-weight="bold" fill="#222" stroke="#222" stroke-width="0.35">1</text>
<text transform="translate(224.05,507.40) scale(1.2921,1.0000)" font-size="7.6" font-weight="bold" fill="#222" stroke="#222" stroke-width="0.35">0</text>
<text transform="translate(231.10,503.90) scale(0.8809,1.0000)" font-size="4.5" font-weight="normal" fill="#aaa" >4</text>
<polygon points="335.0,498.5 336.4,498.5 337.9,497.9 339.3,498.4 340.7,497.6 342.1,498.0 343.6,497.7 345.0,497.5 346.4,497.2 347.9,496.7 349.3,496.7 350.7,497.1 352.1,496.8 353.6,496.3 355.0,496.6 356.7,496.4 358.3,496.0 360.0,496.0 361.4,495.8 362.9,495.0 364.4,494.6 365.8,494.6 366.8,493.1 367.8,491.9 368.5,493.9 369.1,494.9 369.8,496.6 370.3,495.2 370.9,494.7 371.4,493.3 372.0,491.8 372.5,490.6 373.2,489.5 373.8,488.7 374.5,487.6 375.2,485.7 375.8,484.7 376.5,483.8 377.3,483.1 378.1,481.1 379.0,480.2 379.8,478.8 380.6,477.8 381.1,477.0 381.5,475.8 382.0,474.3 382.4,472.4 382.9,471.3 383.3,470.4 383.7,468.6 384.2,467.0 384.6,465.7 386.6,467.0 387.3,467.8 387.9,469.5 388.6,470.4 389.1,472.3 389.6,473.7 390.2,475.3 390.7,476.4 391.5,477.6 392.4,478.7 393.2,480.3 394.0,481.1 394.8,482.6 395.6,483.0 396.5,484.3 397.3,485.6 398.1,486.5 398.9,487.4 399.8,489.3 400.6,490.7 401.4,491.9 402.2,492.6 403.1,493.9 403.9,494.8 404.8,495.9 406.1,496.5 407.5,496.7 408.8,497.3 410.2,497.3 411.5,498.1 412.9,498.6 414.2,498.9 415.6,498.8 416.9,499.1 418.3,499.7 418.3,500.0 335.0,500.0" fill="#bdbdbd" stroke="none"/>
<polyline points="335.0,498.5 336.4,498.5 337.9,497.9 339.3,498.4 340.7,497.6 342.1,498.0 343.6,497.7 345.0,497.5 346.4,497.2 347.9,496.7 349.3,496.7 350.7,497.1 352.1,496.8 353.6,496.3 355.0,496.6 356.7,496.4 358.3,496.0 360.0,496.0 361.4,495.8 362.9,495.0 364.4,494.6 365.8,494.6 366.8,493.1 367.8,491.9 368.5,493.9 369.1,494.9 369.8,496.6 370.3,495.2 370.9,494.7 371.4,493.3 372.0,491.8 372.5,490.6 373.2,489.5 373.8,488.7 374.5,487.6 375.2,485.7 375.8,484.7 376.5,483.8 377.3,483.1 378.1,481.1 379.0,480.2 379.8,478.8 380.6,477.8 381.1,477.0 381.5,475.8 382.0,474.3 382.4,472.4 382.9,471.3 383.3,470.4 383.7,468.6 384.2,467.0 384.6,465.7 386.6,467.0 387.3,467.8 387.9,469.5 388.6,470.4 389.1,472.3 389.6,473.7 390.2,475.3 390.7,476.4 391.5,477.6 392.4,478.7 393.2,480.3 394.0,481.1 394.8,482.6 395.6,483.0 396.5,484.3 397.3,485.6 398.1,486.5 398.9,487.4 399.8,489.3 400.6,490.7 401.4,491.9 402.2,492.6 403.1,493.9 403.9,494.8 404.8,495.9 406.1,496.5 407.5,496.7 408.8,497.3 410.2,497.3 411.5,498.1 412.9,498.6 414.2,498.9 415.6,498.8 416.9,499.1 418.3,499.7" fill="none" stroke="#111" stroke-width="1.4" stroke-linejoin="round"/>
<polyline points="328.2,499.5 329.6,499.7 330.9,499.6 332.3,499.1 333.6,500.0 335.0,499.5 336.4,499.4 337.9,499.3 339.3,499.5 340.0,498.3 340.6,497.5 341.3,496.3 342.0,494.7 342.7,493.6 343.4,492.0 344.1,490.8 344.8,489.2 345.2,488.0 345.5,486.5 345.9,484.5 346.2,483.8 346.6,482.4 346.9,480.7 347.2,479.8 347.6,478.1 347.8,476.4 348.0,475.4 348.3,474.3 348.5,472.7 348.7,471.0 348.9,469.7 349.2,468.8 349.4,467.4 349.6,465.6 349.9,464.7 350.1,462.9 350.4,461.5 350.6,460.4 350.9,458.3 351.2,457.1 351.4,455.6 351.7,454.6 352.2,452.7 352.6,451.5 353.1,450.4 353.8,449.1 354.5,447.0 355.9,446.3 356.5,447.0 356.7,447.8 356.9,449.9 357.1,450.7 357.3,452.1 357.5,453.1 357.7,455.0 357.9,456.5 358.1,457.4 358.2,459.2 358.4,460.6 358.6,461.1 358.8,462.7 359.0,463.7 359.1,465.0 359.3,467.1 359.5,468.0 359.7,469.8 359.9,470.3 360.1,471.9 360.3,473.0 360.5,474.5 360.7,476.0 360.9,477.5 361.1,478.8 361.3,479.5 361.5,481.0 361.8,481.8 362.1,483.2 362.4,485.3 362.6,486.1 362.9,487.1 363.2,488.7 363.5,490.0 364.0,491.9 364.5,493.2 365.0,494.0 365.5,495.5 366.5,496.1 367.5,497.8 368.5,498.6 369.9,498.3 371.4,498.9 372.8,499.5 374.2,498.7 375.7,498.8 377.1,499.5 378.6,499.8 380.0,499.5 381.3,499.4 382.6,499.7 383.9,500.0 385.2,499.9 386.6,499.6 387.9,499.3 389.2,499.1 390.5,499.3 391.8,499.9 393.1,499.0 394.4,499.2 395.7,499.5 397.0,499.7 398.4,499.6 399.7,499.3 401.0,499.9 402.3,499.6 403.6,499.9 404.9,499.7 406.2,499.4 407.5,499.5 408.8,499.4 410.1,499.2 411.5,499.6 412.8,499.7 414.1,499.7 415.4,500.0 416.7,499.4 418.0,499.7 419.3,500.0 420.6,499.5 421.9,500.0 423.3,500.0 424.6,499.8 425.9,499.2 427.2,500.0 428.5,500.0 429.8,499.3 431.1,499.5 432.4,500.0 433.7,499.7 435.1,499.5 436.4,500.0 437.7,499.9 439.0,499.5 440.3,499.6 441.6,499.7 442.9,500.0 444.2,499.5 445.5,499.4 446.9,500.0 448.2,500.0 449.5,500.0 450.8,499.8 452.1,499.7 453.4,499.4 454.7,500.0 456.0,499.6 457.3,499.5 458.6,499.9 460.0,499.5 461.3,500.0 462.6,500.0 463.9,500.0 465.2,500.0 466.5,500.0 467.8,500.0 469.1,499.6 470.4,500.0 471.8,500.0 473.1,500.0 474.4,500.0 475.7,500.0 477.0,500.0" fill="none" stroke="#111" stroke-width="1.4" stroke-linejoin="round"/>
<line x1="328.20" y1="433.60" x2="328.20" y2="501.00" stroke="#111" stroke-width="1.2" />
<line x1="326.70" y1="500.00" x2="477.00" y2="500.00" stroke="#111" stroke-width="1.3" />
<line x1="477.00" y1="500.00" x2="477.00" y2="501.80" stroke="#111" stroke-width="1" />
<line x1="325.70" y1="433.60" x2="328.20" y2="433.60" stroke="#222" stroke-width="1" />
<line x1="325.70" y1="450.20" x2="328.20" y2="450.20" stroke="#222" stroke-width="1" />
<line x1="325.70" y1="466.80" x2="328.20" y2="466.80" stroke="#222" stroke-width="1" />
<line x1="325.70" y1="483.40" x2="328.20" y2="483.40" stroke="#222" stroke-width="1" />
<line x1="325.70" y1="500.00" x2="328.20" y2="500.00" stroke="#222" stroke-width="1" />
<line x1="367.10" y1="448.50" x2="475.00" y2="448.50" stroke="#333" stroke-width="1.3" />
<line x1="367.10" y1="446.70" x2="367.10" y2="450.30" stroke="#333" stroke-width="1.2" />
<line x1="475.00" y1="446.70" x2="475.00" y2="450.30" stroke="#333" stroke-width="1.2" />
<text transform="translate(395.80,445.60) scale(0.9574,1.0000)" font-size="14" font-weight="bold" fill="#111" >88.6%</text>
<text transform="translate(312.30,479.50) rotate(-90) scale(0.8380,1)" font-size="10" font-weight="normal" fill="#111" stroke="#111" stroke-width="0.2">Events</text>
<text transform="translate(322.10,440.40) rotate(-90) scale(0.6015,1)" font-size="13.14" font-weight="normal" fill="#111" stroke="#111" stroke-width="0.25">256</text>
<text transform="translate(321.80,502.00) rotate(-90) scale(0.5823,1)" font-size="11.14" font-weight="normal" fill="#111" stroke="#111" stroke-width="0.2">0</text>
<text transform="translate(323.40,508.80) scale(0.6401,1.0000)" font-size="7.6" font-weight="bold" fill="#222" stroke="#222" stroke-width="0.35">1</text>
<text transform="translate(327.85,508.80) scale(1.2921,1.0000)" font-size="7.6" font-weight="bold" fill="#222" stroke="#222" stroke-width="0.35">0</text>
<text transform="translate(334.90,505.30) scale(0.8809,1.0000)" font-size="4.5" font-weight="normal" fill="#aaa" >0</text>
<line x1="365.40" y1="500.00" x2="365.40" y2="502.20" stroke="#222" stroke-width="0.9" />
<text transform="translate(360.60,508.80) scale(0.6401,1.0000)" font-size="7.6" font-weight="bold" fill="#222" stroke="#222" stroke-width="0.35">1</text>
<text transform="translate(365.05,508.80) scale(1.2921,1.0000)" font-size="7.6" font-weight="bold" fill="#222" stroke="#222" stroke-width="0.35">0</text>
<text transform="translate(372.10,505.30) scale(0.8809,1.0000)" font-size="4.5" font-weight="normal" fill="#aaa" >1</text>
<line x1="402.60" y1="500.00" x2="402.60" y2="502.20" stroke="#222" stroke-width="0.9" />
<text transform="translate(397.80,508.80) scale(0.6401,1.0000)" font-size="7.6" font-weight="bold" fill="#222" stroke="#222" stroke-width="0.35">1</text>
<text transform="translate(402.25,508.80) scale(1.2921,1.0000)" font-size="7.6" font-weight="bold" fill="#222" stroke="#222" stroke-width="0.35">0</text>
<text transform="translate(409.30,505.30) scale(0.8809,1.0000)" font-size="4.5" font-weight="normal" fill="#aaa" >2</text>
<line x1="439.80" y1="500.00" x2="439.80" y2="502.20" stroke="#222" stroke-width="0.9" />
<text transform="translate(435.00,508.80) scale(0.6401,1.0000)" font-size="7.6" font-weight="bold" fill="#222" stroke="#222" stroke-width="0.35">1</text>
<text transform="translate(439.45,508.80) scale(1.2921,1.0000)" font-size="7.6" font-weight="bold" fill="#222" stroke="#222" stroke-width="0.35">0</text>
<text transform="translate(446.50,505.30) scale(0.8809,1.0000)" font-size="4.5" font-weight="normal" fill="#aaa" >3</text>
<text transform="translate(472.20,508.80) scale(0.6401,1.0000)" font-size="7.6" font-weight="bold" fill="#222" stroke="#222" stroke-width="0.35">1</text>
<text transform="translate(476.65,508.80) scale(1.2921,1.0000)" font-size="7.6" font-weight="bold" fill="#222" stroke="#222" stroke-width="0.35">0</text>
<text transform="translate(483.70,505.30) scale(0.8809,1.0000)" font-size="4.5" font-weight="normal" fill="#aaa" >4</text>
<polygon points="110.0,606.5 111.3,606.0 112.7,606.8 114.0,606.8 115.4,606.4 116.7,606.0 118.1,606.0 119.4,605.8 120.8,606.0 122.1,606.8 123.5,605.8 124.8,606.2 126.0,604.5 127.3,603.7 127.9,602.9 128.5,601.1 129.1,600.5 129.7,598.8 130.2,597.8 130.7,596.1 131.2,595.3 131.7,593.5 132.2,592.3 132.8,591.1 133.4,589.9 134.0,588.2 134.6,586.6 135.2,585.5 135.8,584.2 136.5,582.6 137.1,580.9 137.9,580.3 138.7,578.6 139.5,577.6 140.3,576.3 141.2,575.2 142.0,574.3 143.6,572.4 145.2,574.3 145.8,575.8 146.4,577.4 147.1,578.5 147.7,580.0 148.5,581.0 149.3,582.5 150.2,583.9 151.0,585.0 151.8,586.3 152.6,586.9 153.4,588.3 154.2,589.9 155.0,590.7 156.0,591.2 157.1,592.5 158.1,593.2 159.1,594.8 160.1,596.0 161.1,597.1 162.0,597.9 163.0,599.0 164.0,599.7 165.2,600.4 166.4,601.2 167.7,601.7 168.9,602.9 170.2,602.9 171.5,604.4 172.9,604.1 174.2,605.2 175.5,605.4 176.8,605.4 178.1,605.9 179.4,606.0 180.7,606.4 182.0,606.7 182.0,606.8 110.0,606.8" fill="#bdbdbd" stroke="none"/>
<polyline points="110.0,606.5 111.3,606.0 112.7,606.8 114.0,606.8 115.4,606.4 116.7,606.0 118.1,606.0 119.4,605.8 120.8,606.0 122.1,606.8 123.5,605.8 124.8,606.2 126.0,604.5 127.3,603.7 127.9,602.9 128.5,601.1 129.1,600.5 129.7,598.8 130.2,597.8 130.7,596.1 131.2,595.3 131.7,593.5 132.2,592.3 132.8,591.1 133.4,589.9 134.0,588.2 134.6,586.6 135.2,585.5 135.8,584.2 136.5,582.6 137.1,580.9 137.9,580.3 138.7,578.6 139.5,577.6 140.3,576.3 141.2,575.2 142.0,574.3 143.6,572.4 145.2,574.3 145.8,575.8 146.4,577.4 147.1,578.5 147.7,580.0 148.5,581.0 149.3,582.5 150.2,583.9 151.0,585.0 151.8,586.3 152.6,586.9 153.4,588.3 154.2,589.9 155.0,590.7 156.0,591.2 157.1,592.5 158.1,593.2 159.1,594.8 160.1,596.0 161.1,597.1 162.0,597.9 163.0,599.0 164.0,599.7 165.2,600.4 166.4,601.2 167.7,601.7 168.9,602.9 170.2,602.9 171.5,604.4 172.9,604.1 174.2,605.2 175.5,605.4 176.8,605.4 178.1,605.9 179.4,606.0 180.7,606.4 182.0,606.7" fill="none" stroke="#111" stroke-width="1.4" stroke-linejoin="round"/>
<polyline points="76.8,606.8 78.5,606.8 80.1,605.9 81.7,605.1 83.1,604.3 84.4,602.5 85.3,600.9 86.1,600.3 87.0,599.2 87.4,598.1 87.9,596.7 88.3,595.1 88.7,594.4 89.2,593.1 89.6,591.4 90.0,589.6 90.3,588.4 90.7,587.9 91.1,586.5 91.5,584.6 91.8,583.2 92.2,582.2 92.5,580.4 92.8,579.4 93.2,578.5 93.5,577.2 93.8,575.4 94.2,574.5 94.5,573.0 94.8,571.8 95.2,570.4 95.6,569.2 96.0,567.9 96.4,566.4 96.8,564.6 97.2,563.6 97.7,562.3 98.1,560.4 98.5,559.4 99.8,560.7 100.3,561.6 100.8,562.9 101.3,564.6 101.6,566.0 102.0,567.1 102.3,569.1 102.6,569.8 103.0,571.5 103.3,573.1 103.7,574.2 104.1,575.8 104.4,577.3 104.8,577.8 105.2,579.6 105.5,580.5 105.9,582.1 106.2,583.4 106.5,585.1 106.9,586.2 107.2,587.4 107.5,588.2 107.9,589.9 108.2,591.6 108.5,593.1 108.9,593.9 109.2,595.3 109.8,596.2 110.5,597.8 111.2,599.7 111.8,601.1 113.1,601.9 114.4,603.8 115.7,604.1 117.0,604.9 118.3,605.1 119.6,605.6 120.9,605.4 122.2,605.6 123.5,605.8 124.8,605.7 126.1,606.0 127.4,606.0 128.7,605.7 130.0,605.5 131.3,605.2 132.7,605.8 134.0,606.1 135.3,605.9 136.6,606.3 137.9,606.1 139.2,605.8 140.5,606.1 141.8,605.6 143.1,605.5 144.4,606.1 145.7,606.0 147.1,605.5 148.4,605.6 149.7,606.1 151.0,606.5 152.3,605.7 153.6,606.5 154.9,605.7 156.2,605.7 157.5,605.8 158.8,606.6 160.2,606.1 161.5,605.7 162.8,606.2 164.1,606.4 165.4,606.2 166.7,605.8 168.0,605.9 169.3,605.8 170.6,605.7 171.9,606.5 173.2,605.9 174.6,606.7 175.9,606.3 177.2,605.9 178.5,606.2 179.8,606.5 181.1,606.8 182.4,606.2 183.7,606.8 185.0,605.9 186.3,606.4 187.6,606.0 189.0,606.0 190.3,606.4 191.6,606.5 192.9,606.6 194.2,606.1 195.5,606.6 196.8,606.1 198.1,606.0 199.4,606.1 200.7,606.3 202.1,606.1 203.4,606.8 204.7,606.4 206.0,606.7 207.3,606.8 208.6,606.8 209.9,606.1 211.2,606.6 212.5,606.8 213.8,606.2 215.1,606.6 216.5,606.8 217.8,606.2 219.1,606.8 220.4,606.2 221.7,606.5 223.0,606.8" fill="none" stroke="#111" stroke-width="1.4" stroke-linejoin="round"/>
<line x1="76.80" y1="538.10" x2="76.80" y2="607.80" stroke="#111" stroke-width="1.2" />
<line x1="75.30" y1="606.80" x2="223.30" y2="606.80" stroke="#111" stroke-width="1.3" />
<line x1="223.30" y1="606.80" x2="223.30" y2="608.60" stroke="#111" stroke-width="1" />
<line x1="74.30" y1="538.10" x2="76.80" y2="538.10" stroke="#222" stroke-width="1" />
<line x1="74.30" y1="555.27" x2="76.80" y2="555.27" stroke="#222" stroke-width="1" />
<line x1="74.30" y1="572.45" x2="76.80" y2="572.45" stroke="#222" stroke-width="1" />
<line x1="74.30" y1="589.62" x2="76.80" y2="589.62" stroke="#222" stroke-width="1" />
<line x1="74.30" y1="606.80" x2="76.80" y2="606.80" stroke="#222" stroke-width="1" />
<line x1="121.80" y1="556.30" x2="221.10" y2="556.30" stroke="#333" stroke-width="1.3" />
<line x1="121.80" y1="554.50" x2="121.80" y2="558.10" stroke="#333" stroke-width="1.2" />
<line x1="221.10" y1="554.50" x2="221.10" y2="558.10" stroke="#333" stroke-width="1.2" />
<text transform="translate(154.20,552.30) scale(0.9473,1.0000)" font-size="14" font-weight="bold" fill="#111" >96.3%</text>
<text transform="translate(62.80,584.20) rotate(-90) scale(0.7169,1)" font-size="10" font-weight="normal" fill="#111" stroke="#111" stroke-width="0.2">Events</text>
<text transform="translate(71.10,543.90) rotate(-90) scale(0.5932,1)" font-size="11.71" font-weight="normal" fill="#111" stroke="#111" stroke-width="0.25">256</text>
<text transform="translate(70.40,608.80) rotate(-90) scale(0.5823,1)" font-size="11.14" font-weight="normal" fill="#111" stroke="#111" stroke-width="0.2">0</text>
<text transform="translate(72.00,615.60) scale(0.6401,1.0000)" font-size="7.6" font-weight="bold" fill="#222" stroke="#222" stroke-width="0.35">1</text>
<text transform="translate(76.45,615.60) scale(1.2921,1.0000)" font-size="7.6" font-weight="bold" fill="#222" stroke="#222" stroke-width="0.35">0</text>
<text transform="translate(83.50,612.10) scale(0.8809,1.0000)" font-size="4.5" font-weight="normal" fill="#aaa" >0</text>
<line x1="113.42" y1="606.80" x2="113.42" y2="609.00" stroke="#222" stroke-width="0.9" />
<text transform="translate(108.62,615.60) scale(0.6401,1.0000)" font-size="7.6" font-weight="bold" fill="#222" stroke="#222" stroke-width="0.35">1</text>
<text transform="translate(113.08,615.60) scale(1.2921,1.0000)" font-size="7.6" font-weight="bold" fill="#222" stroke="#222" stroke-width="0.35">0</text>
<text transform="translate(120.12,612.10) scale(0.8809,1.0000)" font-size="4.5" font-weight="normal" fill="#aaa" >1</text>
<line x1="150.05" y1="606.80" x2="150.05" y2="609.00" stroke="#222" stroke-width="0.9" />
<text transform="translate(145.25,615.60) scale(0.6401,1.0000)" font-size="7.6" font-weight="bold" fill="#222" stroke="#222" stroke-width="0.35">1</text>
<text transform="translate(149.70,615.60) scale(1.2921,1.0000)" font-size="7.6" font-weight="bold" fill="#222" stroke="#222" stroke-width="0.35">0</text>
<text transform="translate(156.75,612.10) scale(0.8809,1.0000)" font-size="4.5" font-weight="normal" fill="#aaa" >2</text>
<line x1="186.68" y1="606.80" x2="186.68" y2="609.00" stroke="#222" stroke-width="0.9" />
<text transform="translate(181.88,615.60) scale(0.6401,1.0000)" font-size="7.6" font-weight="bold" fill="#222" stroke="#222" stroke-width="0.35">1</text>
<text transform="translate(186.33,615.60) scale(1.2921,1.0000)" font-size="7.6" font-weight="bold" fill="#222" stroke="#222" stroke-width="0.35">0</text>
<text transform="translate(193.38,612.10) scale(0.8809,1.0000)" font-size="4.5" font-weight="normal" fill="#aaa" >3</text>
<text transform="translate(218.50,615.60) scale(0.6401,1.0000)" font-size="7.6" font-weight="bold" fill="#222" stroke="#222" stroke-width="0.35">1</text>
<text transform="translate(222.95,615.60) scale(1.2921,1.0000)" font-size="7.6" font-weight="bold" fill="#222" stroke="#222" stroke-width="0.35">0</text>
<text transform="translate(230.00,612.10) scale(0.8809,1.0000)" font-size="4.5" font-weight="normal" fill="#aaa" >4</text>
<polygon points="378.1,604.5 379.6,604.0 381.2,602.5 382.7,602.2 383.9,601.1 385.0,600.1 386.1,599.5 387.3,598.3 388.3,597.6 389.2,596.4 390.2,594.8 391.2,593.7 391.8,592.5 392.4,591.0 393.0,589.6 393.6,588.7 394.2,587.6 395.2,586.2 396.3,585.5 397.3,583.7 398.3,582.3 399.4,581.7 400.4,580.6 400.9,579.1 401.3,578.0 401.8,577.5 402.2,576.1 402.7,574.5 404.2,576.0 405.0,576.8 405.8,578.3 407.0,579.3 408.1,581.4 408.9,583.3 409.6,584.6 410.4,586.0 411.5,586.4 412.7,587.6 413.5,589.0 414.2,590.4 415.0,592.2 415.8,593.2 416.6,594.5 417.3,596.1 418.1,597.6 419.1,598.7 420.2,599.7 421.2,601.4 422.4,602.0 423.5,603.2 424.6,604.0 425.8,604.2 427.3,604.8 428.9,604.6 430.4,604.8 430.4,604.8 378.1,604.8" fill="#bdbdbd" stroke="none"/>
<polyline points="378.1,604.5 379.6,604.0 381.2,602.5 382.7,602.2 383.9,601.1 385.0,600.1 386.1,599.5 387.3,598.3 388.3,597.6 389.2,596.4 390.2,594.8 391.2,593.7 391.8,592.5 392.4,591.0 393.0,589.6 393.6,588.7 394.2,587.6 395.2,586.2 396.3,585.5 397.3,583.7 398.3,582.3 399.4,581.7 400.4,580.6 400.9,579.1 401.3,578.0 401.8,577.5 402.2,576.1 402.7,574.5 404.2,576.0 405.0,576.8 405.8,578.3 407.0,579.3 408.1,581.4 408.9,583.3 409.6,584.6 410.4,586.0 411.5,586.4 412.7,587.6 413.5,589.0 414.2,590.4 415.0,592.2 415.8,593.2 416.6,594.5 417.3,596.1 418.1,597.6 419.1,598.7 420.2,599.7 421.2,601.4 422.4,602.0 423.5,603.2 424.6,604.0 425.8,604.2 427.3,604.8 428.9,604.6 430.4,604.8" fill="none" stroke="#111" stroke-width="1.4" stroke-linejoin="round"/>
<polyline points="333.5,604.5 335.0,604.3 336.4,604.7 337.9,604.8 339.3,603.9 340.8,604.3 342.0,603.3 343.1,603.2 344.3,602.5 345.5,601.6 346.1,600.6 346.6,598.7 347.1,598.2 347.7,597.0 348.2,595.5 348.8,594.2 349.2,593.2 349.7,591.9 350.1,590.0 350.6,589.2 351.1,587.0 351.5,586.1 351.8,584.4 352.1,583.2 352.4,582.4 352.6,581.3 352.9,579.5 353.2,577.5 353.5,576.7 353.8,575.1 354.0,574.4 354.3,573.1 354.6,570.8 354.8,569.7 355.1,569.2 355.3,567.6 355.6,566.0 355.7,564.6 355.9,563.8 356.0,562.5 356.2,560.2 356.3,559.7 356.5,557.5 356.6,556.7 356.8,555.1 356.9,553.8 357.1,555.4 357.3,556.2 357.4,558.1 357.6,559.4 357.8,561.0 358.2,562.5 358.5,563.4 358.9,565.0 359.2,563.5 359.6,562.1 359.9,561.3 360.3,559.5 360.6,560.6 361.0,562.6 361.4,563.4 361.7,565.0 361.9,566.8 362.1,568.2 362.2,569.4 362.4,570.1 362.6,571.5 362.8,573.9 363.0,575.2 363.1,576.3 363.3,578.1 363.5,579.0 363.7,580.5 363.9,582.0 364.1,583.3 364.4,585.1 364.6,585.9 364.8,587.9 365.0,589.0 365.4,590.1 365.8,591.5 366.1,592.5 366.5,594.0 366.9,595.1 367.3,596.5 368.1,597.7 368.9,598.6 369.6,600.2 370.4,601.4 371.9,602.6 373.5,602.9 375.0,603.7 376.6,604.6 378.1,604.5 379.4,604.2 380.7,604.8 382.0,604.4 383.3,604.5 384.6,604.3 385.9,604.8 387.2,604.2 388.5,604.7 389.8,604.8 391.1,604.8 392.5,604.3 393.8,604.5 395.1,604.6 396.4,604.8 397.7,604.8 399.0,604.7 400.3,604.1 401.6,604.3 402.9,604.3 404.2,604.7 405.5,604.1 406.8,604.5 408.1,604.2 409.4,604.8 410.7,604.8 412.0,604.2 413.3,604.4 414.6,604.8 415.9,604.3 417.2,604.2 418.5,604.6 419.9,604.3 421.2,604.4 422.5,604.5 423.8,604.4 425.1,604.5 426.4,604.8 427.7,604.8 429.0,604.7 430.3,604.3 431.6,604.6 432.9,604.8 434.2,604.8 435.5,604.4 436.8,604.2 438.1,604.8 439.4,604.8 440.7,604.8 442.0,604.6 443.3,604.8 444.6,604.6 445.9,604.4 447.2,604.8 448.6,604.7 449.9,604.7 451.2,604.8 452.5,604.5 453.8,604.2 455.1,604.3 456.4,604.8 457.7,604.6 459.0,604.6 460.3,604.8 461.6,604.8 462.9,604.8 464.2,604.8 465.5,604.8 466.8,604.8 468.1,604.8 469.4,604.8 470.7,604.8 472.0,604.8 473.3,604.8 474.6,604.8 476.0,604.8 477.3,604.7 478.6,604.8 479.9,604.2 481.2,604.8 482.5,604.8 483.8,604.5 485.1,604.8 486.4,604.2 487.7,604.5 489.0,604.8" fill="none" stroke="#111" stroke-width="1.4" stroke-linejoin="round"/>
<line x1="333.50" y1="543.30" x2="333.50" y2="605.80" stroke="#111" stroke-width="1.2" />
<line x1="332.00" y1="604.80" x2="489.40" y2="604.80" stroke="#111" stroke-width="1.3" />
<line x1="489.40" y1="604.80" x2="489.40" y2="606.60" stroke="#111" stroke-width="1" />
<line x1="331.00" y1="543.30" x2="333.50" y2="543.30" stroke="#222" stroke-width="1" />
<line x1="331.00" y1="558.67" x2="333.50" y2="558.67" stroke="#222" stroke-width="1" />
<line x1="331.00" y1="574.05" x2="333.50" y2="574.05" stroke="#222" stroke-width="1" />
<line x1="331.00" y1="589.42" x2="333.50" y2="589.42" stroke="#222" stroke-width="1" />
<line x1="331.00" y1="604.80" x2="333.50" y2="604.80" stroke="#222" stroke-width="1" />
<line x1="374.20" y1="554.80" x2="487.00" y2="554.80" stroke="#333" stroke-width="1.3" />
<line x1="374.20" y1="553.00" x2="374.20" y2="556.60" stroke="#333" stroke-width="1.2" />
<line x1="487.00" y1="553.00" x2="487.00" y2="556.60" stroke="#333" stroke-width="1.2" />
<text transform="translate(403.50,550.40) scale(0.9524,1.0000)" font-size="14" font-weight="bold" fill="#111" >96.0%</text>
<text transform="translate(315.90,586.10) rotate(-90) scale(0.7921,1)" font-size="10" font-weight="normal" fill="#111" stroke="#111" stroke-width="0.2">Events</text>
<text transform="translate(326.10,549.70) rotate(-90) scale(0.5758,1)" font-size="13.0" font-weight="normal" fill="#111" stroke="#111" stroke-width="0.25">256</text>
<text transform="translate(327.10,606.80) rotate(-90) scale(0.5823,1)" font-size="11.14" font-weight="normal" fill="#111" stroke="#111" stroke-width="0.2">0</text>
<text transform="translate(328.70,613.60) scale(0.6401,1.0000)" font-size="7.6" font-weight="bold" fill="#222" stroke="#222" stroke-width="0.35">1</text>
<text transform="translate(333.15,613.60) scale(1.2921,1.0000)" font-size="7.6" font-weight="bold" fill="#222" stroke="#222" stroke-width="0.35">0</text>
<text transform="translate(340.20,610.10) scale(0.8809,1.0000)" font-size="4.5" font-weight="normal" fill="#aaa" >0</text>
<line x1="372.48" y1="604.80" x2="372.48" y2="607.00" stroke="#222" stroke-width="0.9" />
<text transform="translate(367.68,613.60) scale(0.6401,1.0000)" font-size="7.6" font-weight="bold" fill="#222" stroke="#222" stroke-width="0.35">1</text>
<text transform="translate(372.12,613.60) scale(1.2921,1.0000)" font-size="7.6" font-weight="bold" fill="#222" stroke="#222" stroke-width="0.35">0</text>
<text transform="translate(379.18,610.10) scale(0.8809,1.0000)" font-size="4.5" font-weight="normal" fill="#aaa" >1</text>
<line x1="411.45" y1="604.80" x2="411.45" y2="607.00" stroke="#222" stroke-width="0.9" />
<text transform="translate(406.65,613.60) scale(0.6401,1.0000)" font-size="7.6" font-weight="bold" fill="#222" stroke="#222" stroke-width="0.35">1</text>
<text transform="translate(411.10,613.60) scale(1.2921,1.0000)" font-size="7.6" font-weight="bold" fill="#222" stroke="#222" stroke-width="0.35">0</text>
<text transform="translate(418.15,610.10) scale(0.8809,1.0000)" font-size="4.5" font-weight="normal" fill="#aaa" >2</text>
<line x1="450.42" y1="604.80" x2="450.42" y2="607.00" stroke="#222" stroke-width="0.9" />
<text transform="translate(445.62,613.60) scale(0.6401,1.0000)" font-size="7.6" font-weight="bold" fill="#222" stroke="#222" stroke-width="0.35">1</text>
<text transform="translate(450.07,613.60) scale(1.2921,1.0000)" font-size="7.6" font-weight="bold" fill="#222" stroke="#222" stroke-width="0.35">0</text>
<text transform="translate(457.12,610.10) scale(0.8809,1.0000)" font-size="4.5" font-weight="normal" fill="#aaa" >3</text>
<text transform="translate(484.60,613.60) scale(0.6401,1.0000)" font-size="7.6" font-weight="bold" fill="#222" stroke="#222" stroke-width="0.35">1</text>
<text transform="translate(489.05,613.60) scale(1.2921,1.0000)" font-size="7.6" font-weight="bold" fill="#222" stroke="#222" stroke-width="0.35">0</text>
<text transform="translate(496.10,610.10) scale(0.8809,1.0000)" font-size="4.5" font-weight="normal" fill="#aaa" >4</text>
<line x1="204.80" y1="441.50" x2="204.80" y2="446.50" stroke="#999" stroke-width="1" />
<text x="201" y="553.5" font-size="8" fill="#888" textLength="12" lengthAdjust="spacingAndGlyphs">....</text>
</svg>
</body></html>
